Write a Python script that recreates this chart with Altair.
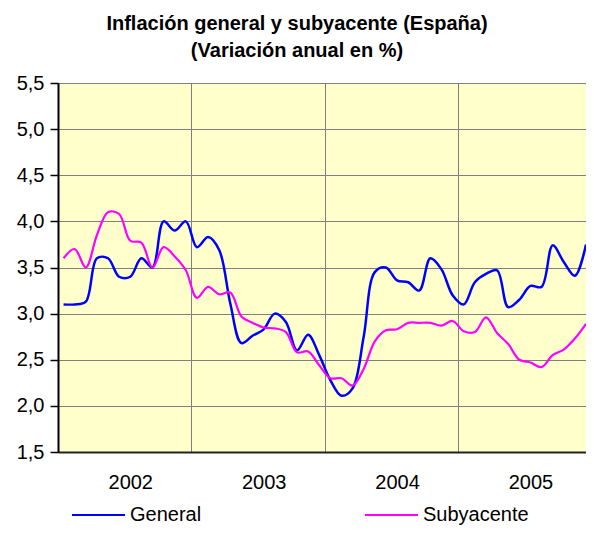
import altair as alt
import pandas as pd

years = ["2002", "2003", "2004", "2005"]
series_names = ["General", "Subyacente"]
series_colors = ["#0000FF", "#FF00FF"]

general = [
    3.1, 3.1, 3.13, 3.6, 3.6, 3.4, 3.4, 3.6, 3.5, 4.0, 3.9, 4.0,
    3.72, 3.83, 3.69, 3.11, 2.68, 2.76, 2.83, 3.0, 2.91, 2.6, 2.77, 2.55,
    2.28, 2.11, 2.19, 2.75, 3.45, 3.5, 3.36, 3.34, 3.25, 3.6, 3.48, 3.2,
    3.1, 3.34, 3.43, 3.47, 3.07, 3.15, 3.3, 3.29, 3.74, 3.56, 3.41, 3.75,
]
subyacente = [
    3.6, 3.7, 3.5, 3.85, 4.1, 4.08, 3.79, 3.77, 3.5, 3.72, 3.62, 3.47,
    3.17, 3.29, 3.21, 3.23, 2.97, 2.9, 2.85, 2.84, 2.8, 2.58, 2.59, 2.44,
    2.3, 2.3, 2.22, 2.4, 2.7, 2.82, 2.83, 2.9, 2.9, 2.9, 2.87, 2.92,
    2.81, 2.8, 2.96, 2.79, 2.67, 2.5, 2.47, 2.42, 2.55, 2.61, 2.73, 2.89,
]
y_ticks = [1.5, 2.0, 2.5, 3.0, 3.5, 4.0, 4.5, 5.0, 5.5]

W = 528
H = 369
n_months = len(general)
x_max = n_months - 0.5
px_month = W / x_max

rows = []
for i, (g, s) in enumerate(zip(general, subyacente)):
    rows.append({"mes": i + 0.5, "serie": series_names[0], "valor": g})
    rows.append({"mes": i + 0.5, "serie": series_names[1], "valor": s})
df = pd.DataFrame(rows)

FONT = "Liberation Sans"
color_scale = alt.Scale(domain=series_names, range=series_colors)

x_enc = alt.X(
    "mes:Q",
    scale=alt.Scale(domain=[0, x_max], nice=False, zero=False),
    axis=alt.Axis(
        title=None,
        values=[0, 12, 24, 36],
        labelExpr="[" + ",".join("'%s'" % y for y in years) + "][datum.value/12]",
        grid=True,
        gridColor="#808080",
        gridWidth=1,
        ticks=False,
        tickSize=0,
        labelOffset=6.5 * px_month,
        labelAlign="center",
        labelFlush=False,
        labelOverlap=False,
        labelBound=False,
        labelPadding=20,
        labelFontSize=20,
        labelFont=FONT,
        labelColor="#000000",
        domainColor="#222222",
        domainWidth=2,
    ),
)
y_enc = alt.Y(
    "valor:Q",
    scale=alt.Scale(domain=[1.5, 5.5], nice=False, zero=False),
    axis=alt.Axis(
        title=None,
        values=y_ticks,
        labelExpr="replace(format(datum.value, '.1f'), '.', ',')",
        grid=True,
        gridColor="#808080",
        gridWidth=1,
        tickColor="#000000",
        tickSize=8,
        tickWidth=1.5,
        domainColor="#000000",
        domainWidth=2,
        labelPadding=6,
        labelFontSize=20,
        labelFont=FONT,
        labelColor="#000000",
    ),
)

lines = alt.Chart(df).mark_line(interpolate="catmull-rom").encode(
    x=x_enc,
    y=y_enc,
    color=alt.Color("serie:N", scale=color_scale, legend=None),
    strokeWidth=alt.StrokeWidth(
        "serie:N", scale=alt.Scale(domain=series_names, range=[2.5, 2.2]), legend=None
    ),
    detail="serie:N",
)

legend_layers = []
leg_y = 432
leg_starts = [14, 307]
for name, x0 in zip(series_names, leg_starts):
    d = pd.DataFrame({"serie": [name]})
    legend_layers.append(
        alt.Chart(d).mark_rule(strokeWidth=2).encode(
            x=alt.value(x0), x2=alt.value(x0 + 53), y=alt.value(leg_y),
            color=alt.Color("serie:N", scale=color_scale, legend=None),
        )
    )
    legend_layers.append(
        alt.Chart(d).mark_text(
            align="left", baseline="middle", fontSize=20, font=FONT, color="#000000"
        ).encode(x=alt.value(x0 + 58), y=alt.value(leg_y), text="serie:N")
    )

chart = alt.layer(lines, *legend_layers).properties(
    width=W,
    height=H,
    padding={"left": 50, "top": 75, "right": 0, "bottom": 78},
    autosize=alt.AutoSizeParams(type="none"),
    title=alt.TitleParams(
        text=["Inflación general y subyacente (España)", "(Variación anual en %)"],
        fontSize=20,
        fontWeight="bold",
        font=FONT,
        color="#000000",
        lineHeight=27,
        anchor="middle",
        dx=-25,
        offset=12,
    ),
).configure_view(fill="#FFFFCC", stroke="#808080")

chart.save("out.html", embed_options={"renderer": "svg", "actions": False})
